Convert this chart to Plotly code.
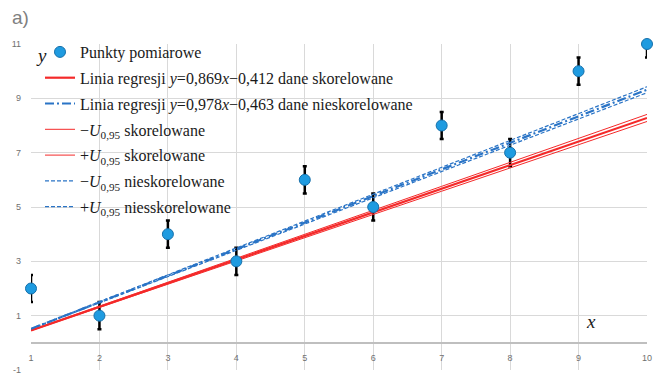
import plotly.graph_objects as go

# ---- data ----
x_pts = [1, 2, 3, 4, 5, 6, 7, 8, 9, 10]
y_pts = [2, 1, 4, 3, 6, 5, 8, 7, 10, 11]
err_pts = [0.5, 0.5, 0.5, 0.5, 0.5, 0.5, 0.5, 0.5, 0.5, 0.5]

slope_kor, icpt_kor = 0.869, -0.412     # dane skorelowane
slope_nie, icpt_nie = 0.978, -0.463     # dane nieskorelowane

x_line = [1, 4, 7, 10]
u_kor = [0.01, 0.04, 0.09, 0.13]        # U_0,95 skorelowane
u_nie = [0.01, 0.04, 0.075, 0.11]       # U_0,95 nieskorelowane

x_ticks = [1, 2, 3, 4, 5, 6, 7, 8, 9, 10]
y_ticks = [-1, 1, 3, 5, 7, 9, 11]

names = [
    "Punkty pomiarowe",
    "Linia regresji <i>y</i>=0,869<i>x</i>−0,412 dane skorelowane",
    "Linia regresji <i>y</i>=0,978<i>x</i>−0,463 dane nieskorelowane",
    "−<i>U</i><sub>0,95</sub> skorelowane",
    "+<i>U</i><sub>0,95</sub> skorelowane",
    "−<i>U</i><sub>0,95</sub> nieskorelowane",
    "+<i>U</i><sub>0,95</sub> niesskorelowane",
]

RED = "#f42a2a"
BLUE = "#2a74c6"
PT = "#1f9be0"

# plot-area geometry (pixels) used to place paper-referenced items
L, R, T, B = 31, 16, 44, 7
W, H = 663, 377
PW, PH = W - L - R, H - T - B


def px(xp):
    return (xp - L) / PW


def py(yp):
    return (H - B - yp) / PH


c_kor = [slope_kor * x + icpt_kor for x in x_line]
c_nie = [slope_nie * x + icpt_nie for x in x_line]

fig = go.Figure()

# error bars (clipped at the plot area)
fig.add_trace(go.Scatter(x=x_pts, y=y_pts, mode="markers",
                         marker=dict(size=1, opacity=0),
                         error_y=dict(type="data", array=err_pts, color="black",
                                      thickness=2.5, width=2),
                         showlegend=False, hoverinfo="skip", cliponaxis=True))

fig.add_trace(go.Scatter(x=x_line, y=c_kor, mode="lines", name=names[1],
                         line=dict(color=RED, width=2.2), legendrank=2, legendgroup="b"))
fig.add_trace(go.Scatter(x=x_line, y=c_nie, mode="lines", name=names[2],
                         line=dict(color=BLUE, width=2.2, dash="9px,3px,2px,3px"),
                         legendrank=3, legendgroup="c"))
fig.add_trace(go.Scatter(x=x_line, y=[c - u for c, u in zip(c_kor, u_kor)], mode="lines",
                         name=names[3], line=dict(color=RED, width=1), legendrank=4, legendgroup="d"))
fig.add_trace(go.Scatter(x=x_line, y=[c + u for c, u in zip(c_kor, u_kor)], mode="lines",
                         name=names[4], line=dict(color=RED, width=1), legendrank=5, legendgroup="e"))
fig.add_trace(go.Scatter(x=x_line, y=[c - u for c, u in zip(c_nie, u_nie)], mode="lines",
                         name=names[5], line=dict(color=BLUE, width=1.2, dash="4px,2px"),
                         legendrank=6, legendgroup="f"))
fig.add_trace(go.Scatter(x=x_line, y=[c + u for c, u in zip(c_nie, u_nie)], mode="lines",
                         name=names[6], line=dict(color=BLUE, width=1.2, dash="4px,2px"),
                         legendrank=7, legendgroup="g"))

# measurement points
fig.add_trace(go.Scatter(x=x_pts, y=y_pts, mode="markers", name=names[0],
                         marker=dict(size=11, color=PT, line=dict(color="#1670ab", width=1)),
                         cliponaxis=False, legendrank=1, legendgroup="a"))

# white backing of the legend area (covers gridlines, stays under the traces)
legend_boxes = [(55, 44, 300, 66), (55, 66, 412, 118), (55, 118, 310, 168), (55, 168, 240, 221)]
shapes = [dict(type="rect", xref="paper", yref="paper", layer="between",
               x0=px(a), x1=px(c), y0=py(d), y1=py(b),
               fillcolor="white", line=dict(width=0))
          for a, b, c, d in legend_boxes]

ann_font_serif = dict(family="Liberation Serif", size=19, color="#1a1a1a")

fig.update_layout(
    width=W, height=H,
    margin=dict(l=L, r=R, t=T, b=B),
    plot_bgcolor="white", paper_bgcolor="white",
    showlegend=True,
    legend=dict(x=px(40), y=py(35), xanchor="left", yanchor="top",
                maxheight=370,
                bgcolor="rgba(0,0,0,0)", borderwidth=0, tracegroupgap=2,
                font=dict(family="Liberation Serif", size=16, color="#1a1a1a")),
    xaxis=dict(range=[1, 10], tickvals=x_ticks, ticktext=[str(v) for v in x_ticks],
               showgrid=True, gridcolor="#d9d9d9", gridwidth=1,
               zeroline=False, showline=False, ticks="", automargin=False,
               anchor="free", position=1 / 12, ticklabelstandoff=8,
               tickfont=dict(family="Liberation Sans", size=9, color="#707070")),
    yaxis=dict(range=[-1, 11], tickvals=y_ticks, ticktext=[str(v) for v in y_ticks],
               showgrid=True, gridcolor="#d9d9d9", gridwidth=1,
               zeroline=True, zerolinecolor="#bfbfbf", zerolinewidth=1.5,
               showline=False, ticks="", ticklabelstandoff=9, automargin=False,
               tickfont=dict(family="Liberation Sans", size=9, color="#707070")),
    shapes=shapes,
    annotations=[
        dict(text="a)", xref="paper", yref="paper", x=px(20), y=py(17),
             xanchor="center", yanchor="middle", showarrow=False,
             font=dict(family="Liberation Sans", size=19, color="#7f7f7f")),
        dict(text="<i>y</i>", xref="paper", yref="paper", x=px(41), y=py(55),
             xanchor="center", yanchor="middle", showarrow=False, font=ann_font_serif),
        dict(text="<i>x</i>", xref="paper", yref="paper", x=px(591), y=py(321),
             xanchor="center", yanchor="middle", showarrow=False, font=ann_font_serif),
    ],
)

fig.write_html("out.html", config={"displayModeBar": False},
               post_script="document.body.style.margin='0';document.body.style.overflow='hidden';")
